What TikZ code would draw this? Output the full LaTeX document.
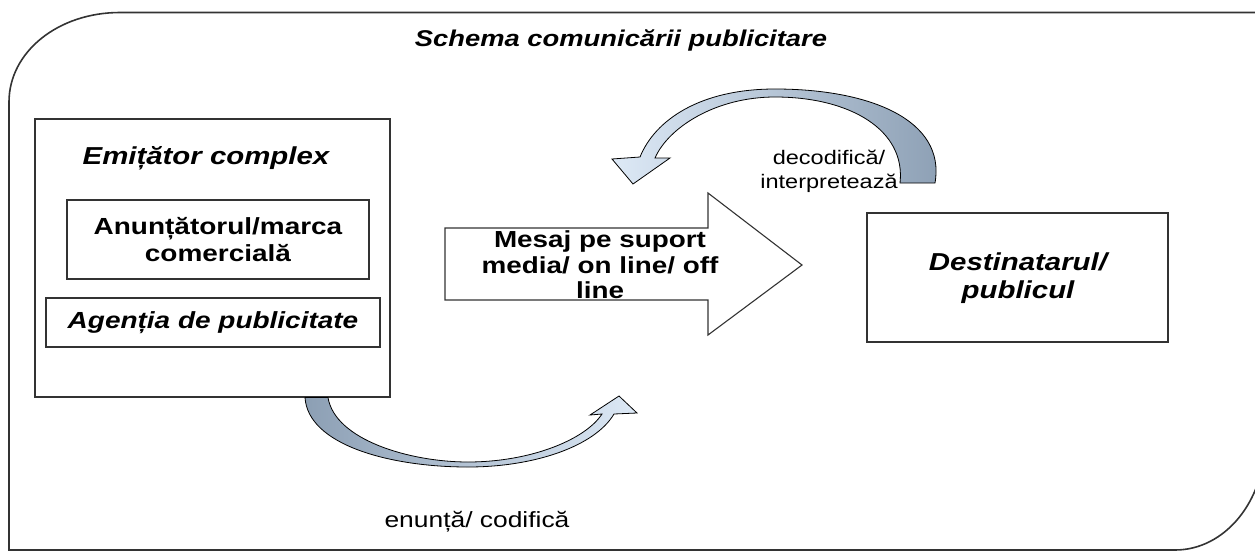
\documentclass[tikz,border=0pt]{standalone}
\usepackage{fontspec}
\setmainfont{Liberation Sans}[FakeStretch=1.2]

\definecolor{bandDark}{HTML}{8C9FB4}
\definecolor{bandLight}{HTML}{DDE9F6}
\definecolor{edge}{HTML}{333333}

\begin{document}
\begin{tikzpicture}[x=1pt,y=-1pt,
  box/.style={draw=edge, line width=1.3pt, inner sep=0pt},
  frame/.style={draw=edge, line width=1.6pt},
  band/.style={draw=black, line width=0.8pt},
  bigtxt/.style={align=center, inner sep=0pt, font=\fontsize{23.3}{27}\selectfont\bfseries},
  bigit/.style={bigtxt, font=\fontsize{23.3}{27}\selectfont\bfseries\itshape},
  small/.style={align=center, inner sep=0pt, font=\fontsize{19.6}{24}\selectfont}]
\useasboundingbox (0,0) rectangle (1255,552);

% outer frame with two rounded corners
\draw[frame] (9,550) -- (9,102)
  .. controls (9,52) and (58,12.5) .. (120,12.5)
  -- (1265,12.5) -- (1265,440)
  .. controls (1265,501) and (1225,550) .. (1175,550) -- cycle;

% title
\node[bigit, font=\fontsize{22.8}{25}\selectfont\bfseries\itshape, anchor=base] (title) at (621,46.5)
  {Schema comunicării publicitare};

% sender block
\node[box, minimum width=355pt, minimum height=278pt] (emit) at (212.5,258) {};
\node[bigit, font=\fontsize{24.5}{26}\selectfont\bfseries\itshape, anchor=base] (emitlbl) at (206,164)
  {Emițător complex};
\node[box, bigtxt, minimum width=302pt, minimum height=79pt] (brand) at (218,239.5)
  {Anunțătorul/marca\\comercială};
\node[box, bigit, minimum width=334pt, minimum height=49pt] (agency) at (213,322.5)
  {Agenția de publicitate};

% receiver
\node[box, minimum width=301pt, minimum height=129pt] (dest) at (1017.5,277.5) {};
\node[bigit, font=\fontsize{24.5}{28}\selectfont\bfseries\itshape] (destlbl) at (1018,278.5)
  {Destinatarul/\\publicul};

% message arrow
\draw[draw=edge, line width=1.1pt, fill=white]
  (445,228) -- (708,228) -- (708,193) -- (802,265) -- (708,335) -- (708,300) -- (445,300) -- cycle;
\node[bigtxt, font=\fontsize{23.2}{25.5}\selectfont\bfseries] (msg) at (600,265)
  {Mesaj pe suport\\media/ on line/ off\\line};

% curved arrow: sender -> message
\path[band, left color=bandDark, right color=bandLight]
  (305,397.5) -- (328,397.5)
  .. controls (335,440) and (410,462) .. (468,462)
  .. controls (530,462) and (585,440) .. (602,414)
  -- (590,415) -- (619,396) -- (637,413) -- (614,414)
  .. controls (595,446) and (535,467) .. (468,467)
  .. controls (390,467) and (308,445) .. (305,397.5) -- cycle;
\node[small, font=\fontsize{22}{24}\selectfont] (enc) at (477,522) {enunță/ codifică};

% curved arrow: receiver -> message
\path[band, left color=bandLight, right color=bandDark]
  (900,183) -- (935,183)
  .. controls (946,120) and (870,89) .. (775,89)
  .. controls (700,89) and (655,120) .. (640,157)
  -- (612,159) -- (633,184) -- (670,158) -- (655,158)
  .. controls (668,128) and (715,97) .. (775,97)
  .. controls (850,97) and (906,130) .. (900,183) -- cycle;
\node[small] (dec) at (829,171) {decodifică/\\interpretează};
\end{tikzpicture}
\end{document}
